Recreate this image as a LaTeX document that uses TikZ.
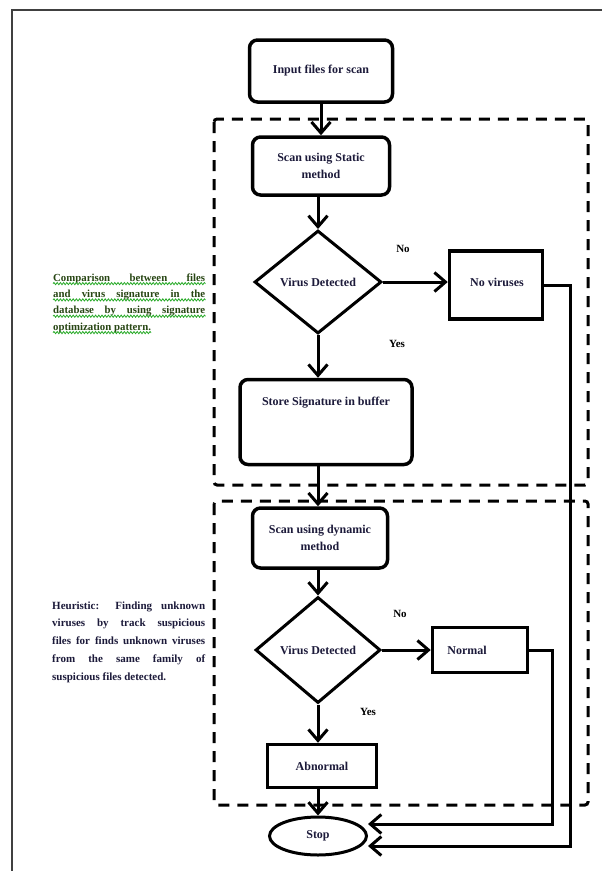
\documentclass[tikz,border=0pt]{standalone}
\usepackage{fontspec}
\setmainfont{Liberation Serif}
\usetikzlibrary{shapes.geometric,arrows.meta,decorations.pathmorphing}
\definecolor{inkblue}{RGB}{28,26,58}
\definecolor{inkgreen}{RGB}{40,70,20}
\definecolor{squig}{RGB}{40,170,40}
\begin{document}
\begin{tikzpicture}[x=1pt,y=-1pt,
  boxfont/.style={font=\bfseries\fontsize{12}{17}\selectfont},
  rbox/.style={draw,line width=3.5pt,rounded corners=8pt,align=center,inner sep=0pt,boxfont},
  sbox/.style={draw,line width=3.5pt,align=center,inner sep=0pt,boxfont},
  dec/.style={draw,diamond,line width=3pt,inner sep=0pt},
  txt/.style={inner sep=0pt,align=center,boxfont,text=inkblue},
  conn/.style={line width=3pt,-{Straight Barb[length=11pt,width=19pt]}},
  grp/.style={draw,line width=3pt,dash pattern=on 11pt off 8pt,rounded corners=3pt},
  lab/.style={inner sep=0pt,font=\bfseries\fontsize{11}{13}\selectfont},
  gline/.style={inner sep=0pt,anchor=base west,text=inkgreen,font=\bfseries\fontsize{10.8}{13}\selectfont},
  hline/.style={inner sep=0pt,anchor=base west,text=inkblue,font=\bfseries\fontsize{11}{13}\selectfont},
  wavy/.style={squig,line width=0.8pt,decorate,decoration={snake,amplitude=1.1pt,segment length=3.2pt}}
]
\useasboundingbox (0,0) rectangle (602,871);
\fill[white] (0,0) rectangle (602,871);
% outer frame
\draw[line width=1.8pt,black!75] (12,871) -- (12,10) -- (602,10);
% dashed groups
\draw[grp] (214,119) rectangle (588,485);
\draw[grp] (214,501) rectangle (588,805);
% nodes
\node[rbox,minimum width=143,minimum height=62] (in) at (321,71) {};
\node[txt] (intxt) at (in) {Input files for scan};
\node[rbox,minimum width=137,minimum height=58] (static) at (321,166) {};
\node[txt] (stattxt) at (static) {Scan using Static\\method};
\node[dec,minimum width=127,minimum height=103] (d1) at (318,282) {};
\node[txt] (d1txt) at (d1) {Virus Detected};
\node[sbox,minimum width=93,minimum height=68] (nov) at (496,285) {};
\node[txt] (novtxt) at (497,282) {No viruses};
\node[rbox,minimum width=172,minimum height=85] (store) at (326,422) {};
\node[txt] (storetxt) at (326,403) {Store Signature in buffer};
\node[rbox,minimum width=135,minimum height=60] (dyn) at (320,538) {};
\node[txt] (dyntxt) at (dyn) {Scan using dynamic\\method};
\node[dec,minimum width=125,minimum height=106] (d2) at (318,650) {};
\node[txt] (d2txt) at (d2) {Virus Detected};
\node[sbox,minimum width=95,minimum height=45] (normal) at (480,650) {};
\node[txt] (normtxt) at (467,650) {Normal};
\node[sbox,minimum width=109,minimum height=43] (abn) at (322,766) {};
\node[txt] (abntxt) at (abn) {Abnormal};
\node[draw,ellipse,line width=3pt,minimum width=97,minimum height=38,inner sep=0pt] (stop) at (318,836) {};
\node[txt] (stoptxt) at (stop) {Stop};
% labels
\node[lab] (no1) at (403,249) {No};
\node[lab] (yes1) at (397,344) {Yes};
\node[lab] (no2) at (400,614) {No};
\node[lab] (yes2) at (368,712) {Yes};
% connectors
\draw[conn] (in.south) -- (static.north);
\draw[conn] (d1.north |- static.south) -- (d1.north);
\draw[conn] (d1.east) -- (nov.west |- d1.east);
\draw[conn] (d1.south) -- (d1.south |- store.north);
\draw[conn] (d1.south |- store.south) -- (d1.south |- dyn.north);
\draw[conn] (d2.north |- dyn.south) -- (d2.north);
\draw[conn] (d2.east) -- (normal.west);
\draw[conn] (d2.south) -- (d2.south |- abn.north);
\draw[conn] (stop.north |- abn.south) -- (stop.north);
\coordinate (r1) at (552,824);
\coordinate (r2) at (570,846);
\draw[conn] (normal.east) -| (r1) -- (stop.east |- r1);
\draw[conn] (nov.east) -| (r2) -- (stop.east |- r2);
% side note: comparison (green, grammar-squiggled)
\node[gline] (c1) at (53,281) {\makebox[152pt][s]{Comparison between files}};
\node[gline] (c2) at (53,297.3) {\makebox[152pt][s]{and virus signature in the}};
\node[gline] (c3) at (53,313.6) {\makebox[152pt][s]{database by using signature}};
\node[gline] (c4) at (53,330) {optimization pattern.};
\foreach \n in {c1,c2,c3,c4}
  \draw[wavy] ([yshift=-2.6pt]\n.base west) -- ([yshift=-2.6pt]\n.base east);
% side note: heuristic
\node[hline] (h1) at (52,609) {\makebox[153pt][s]{Heuristic: Finding unknown}};
\node[hline] (h2) at (52,626.8) {\makebox[153pt][s]{viruses by track suspicious}};
\node[hline] (h3) at (52,644.6) {\makebox[153pt][s]{files for finds unknown viruses}};
\node[hline] (h4) at (52,662.4) {\makebox[153pt][s]{from the same family of}};
\node[hline] (h5) at (52,680.2) {suspicious files detected.};
\end{tikzpicture}
\end{document}
